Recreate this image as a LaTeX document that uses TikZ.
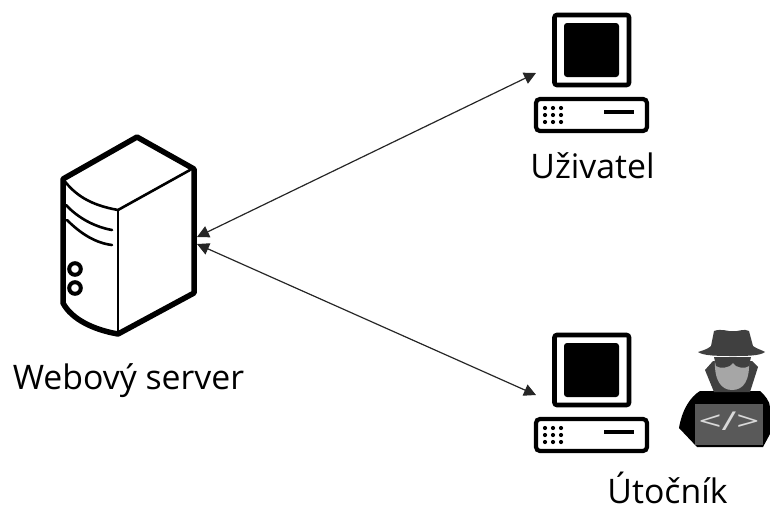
\documentclass[tikz,border=0pt]{standalone}
\usepackage{fontspec}
\setmainfont{Open Sans}
\usetikzlibrary{arrows.meta}
\definecolor{hatgray}{HTML}{404040}
\definecolor{facegray}{HTML}{A6A6A6}
\definecolor{lapgray}{HTML}{595959}
\definecolor{codegray}{HTML}{D9D9D9}
\tikzset{
  label text/.style={font=\fontsize{33.8}{36}\selectfont, inner sep=0pt, text=black, anchor=base},
  link/.style={draw=black!85, line width=1.2pt, {Triangle[length=12pt,width=12pt]}-{Triangle[length=12pt,width=12pt]}},
  thick outline/.style={draw=black, line width=5.5pt, line join=round},
  thin outline/.style={draw=black, line width=2.6pt, line cap=round, line join=round},
  pics/computer/.style={code={
    \draw[line width=4.6pt, rounded corners=2.5pt] (554.5,15) rectangle (629,85);
    \fill[rounded corners=3pt] (564,23) rectangle (619,77);
    \draw[line width=4.2pt, rounded corners=4pt] (536,99) rectangle (647,131);
    \foreach \px in {545,553,561} \foreach \py in {108,115,122} \fill (\px,\py) circle (2.1);
    \draw[line width=4pt] (604,112) -- (634,112);
  }}
}
\begin{document}
\begin{tikzpicture}[x=1pt,y=-1pt]
\useasboundingbox (0,0) rectangle (770,506);
% server
\draw[thin outline] (63,179) .. controls (75,195) and (90,205) .. (118,210) -- (190,170);
\draw[thin outline] (118,210) -- (118,333);
\draw[thin outline] (66,205) .. controls (78,218) and (95,227) .. (112,230);
\draw[thin outline] (67,220) .. controls (80,233) and (95,243) .. (112,245);
\draw[draw=black, line width=4pt] (75,269) circle (5.8);
\draw[draw=black, line width=4pt] (75,288) circle (5.8);
\draw[thick outline] (63,179) -- (137,137) -- (194,169) -- (194,293) -- (118,334) .. controls (95,330) and (72,320) .. (63,303) -- cycle;
% computers
\pic {computer};
\pic[yshift=-320pt] {computer};
% attacker
\fill[black] (679,428) .. controls (682,410) and (690,397) .. (700,391) -- (760,391) .. controls (765,395) and (770,402) .. (770,407) -- (770,434) -- (763,447) -- (697,447) -- cycle;
\fill[hatgray] (713,361) -- (705,370) -- (714,392) -- (750,392) -- (758,367) -- (752,361) -- cycle;
\fill[facegray] (715,360) -- (749,360) .. controls (750,380) and (744,390) .. (732,390) .. controls (721,390) and (714,380) .. (715,360) -- cycle;
\fill[hatgray] (714,357) -- (751,357) -- (749,366) .. controls (745,369) and (736,368) .. (733,363) .. controls (730,368) and (720,369) .. (716,366) -- cycle;
\fill[hatgray] (698,352) .. controls (705,350) and (709,348) .. (711,346) -- (714,331) .. controls (722,328) and (728,332) .. (733,331) .. controls (738,332) and (744,328) .. (749,331) -- (753,346) .. controls (757,349) and (762,350) .. (765,352) .. controls (760,356) and (745,356) .. (733,356) .. controls (720,356) and (703,356) .. (698,352) -- cycle;
\fill[lapgray] (695,404) rectangle (763,445);
\node[inner sep=0pt, text=codegray, font=\fontsize{26}{26}\selectfont, xscale=1.55] (code) at (729,421) {</>};
% labels
\node[label text] (ws) at (128.5,389) {Webový server};
\node[label text] (us) at (592.5,178) {Uživatel};
\node[label text] (ut) at (667.5,503) {Útočník};
% connectors
\coordinate (srv1) at (197,237);
\coordinate (srv2) at (197,244);
\coordinate (pc1) at (536,73);
\coordinate (pc2) at (536,395);
\draw[link] (srv1) -- (pc1);
\draw[link] (srv2) -- (pc2);
\end{tikzpicture}
\end{document}
